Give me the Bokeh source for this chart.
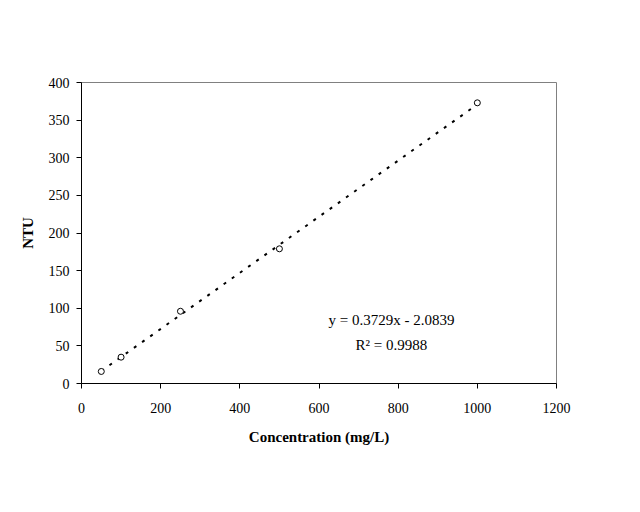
from bokeh.plotting import figure
from bokeh.models import Range1d, FixedTicker, Label
from bokeh.embed import file_html
from bokeh.resources import INLINE

concentration = [50, 100, 250, 500, 1000]
ntu = [16, 35, 96, 179, 373]
slope = 0.3729
intercept = -2.0839
x_ticks = [0, 200, 400, 600, 800, 1000, 1200]
y_ticks = [0, 50, 100, 150, 200, 250, 300, 350, 400]
eq_text = "y = 0.3729x - 2.0839"
r2_text = "R\u00b2 = 0.9988"

FONT = "Liberation Serif"

p = figure(width=624, height=496, output_backend="svg", toolbar_location=None,
           x_range=Range1d(0, 1200), y_range=Range1d(0, 400),
           frame_width=475, frame_height=301,
           min_border_left=81, min_border_top=82, min_border_right=68, min_border_bottom=113)
p.background_fill_color = "white"
p.border_fill_color = "white"
p.outline_line_color = "#808080"
p.outline_line_width = 1
p.xgrid.visible = False
p.ygrid.visible = False

for ax, ticks in ((p.xaxis, x_ticks), (p.yaxis, y_ticks)):
    ax.ticker = FixedTicker(ticks=ticks)
    ax.axis_line_color = "black"
    ax.major_tick_line_color = "black"
    ax.major_tick_out = 5
    ax.major_tick_in = 0
    ax.minor_tick_line_color = None
    ax.major_label_text_font = FONT
    ax.major_label_text_font_size = "14px"
    ax.major_label_text_color = "black"
    ax.axis_label_text_font = FONT
    ax.axis_label_text_font_style = "bold"
    ax.axis_label_text_font_size = "15px"
    ax.axis_label_text_color = "black"

p.xaxis.axis_label = "Concentration (mg/L)"
p.yaxis.axis_label = "NTU"
p.xaxis.major_label_standoff = 14
p.yaxis.major_label_standoff = 7
p.xaxis.axis_label_standoff = 13
p.yaxis.axis_label_standoff = 10

trend_x = [concentration[0], concentration[-1]]
trend_y = [slope * v + intercept for v in trend_x]
p.line(trend_x, trend_y, line_color="black", line_width=2, line_dash="3 7")

p.scatter(concentration, ntu, marker="circle", size=6, fill_color="white",
          line_color="black", line_width=1)

p.add_layout(Label(x=783, y=84, text=eq_text, text_font=FONT, text_font_size="15px",
                   text_align="center", text_baseline="middle", text_color="black"))
p.add_layout(Label(x=783, y=51, text=r2_text, text_font=FONT, text_font_size="15px",
                   text_align="center", text_baseline="middle", text_color="black"))

open("out.html", "w").write(file_html(p, INLINE))
